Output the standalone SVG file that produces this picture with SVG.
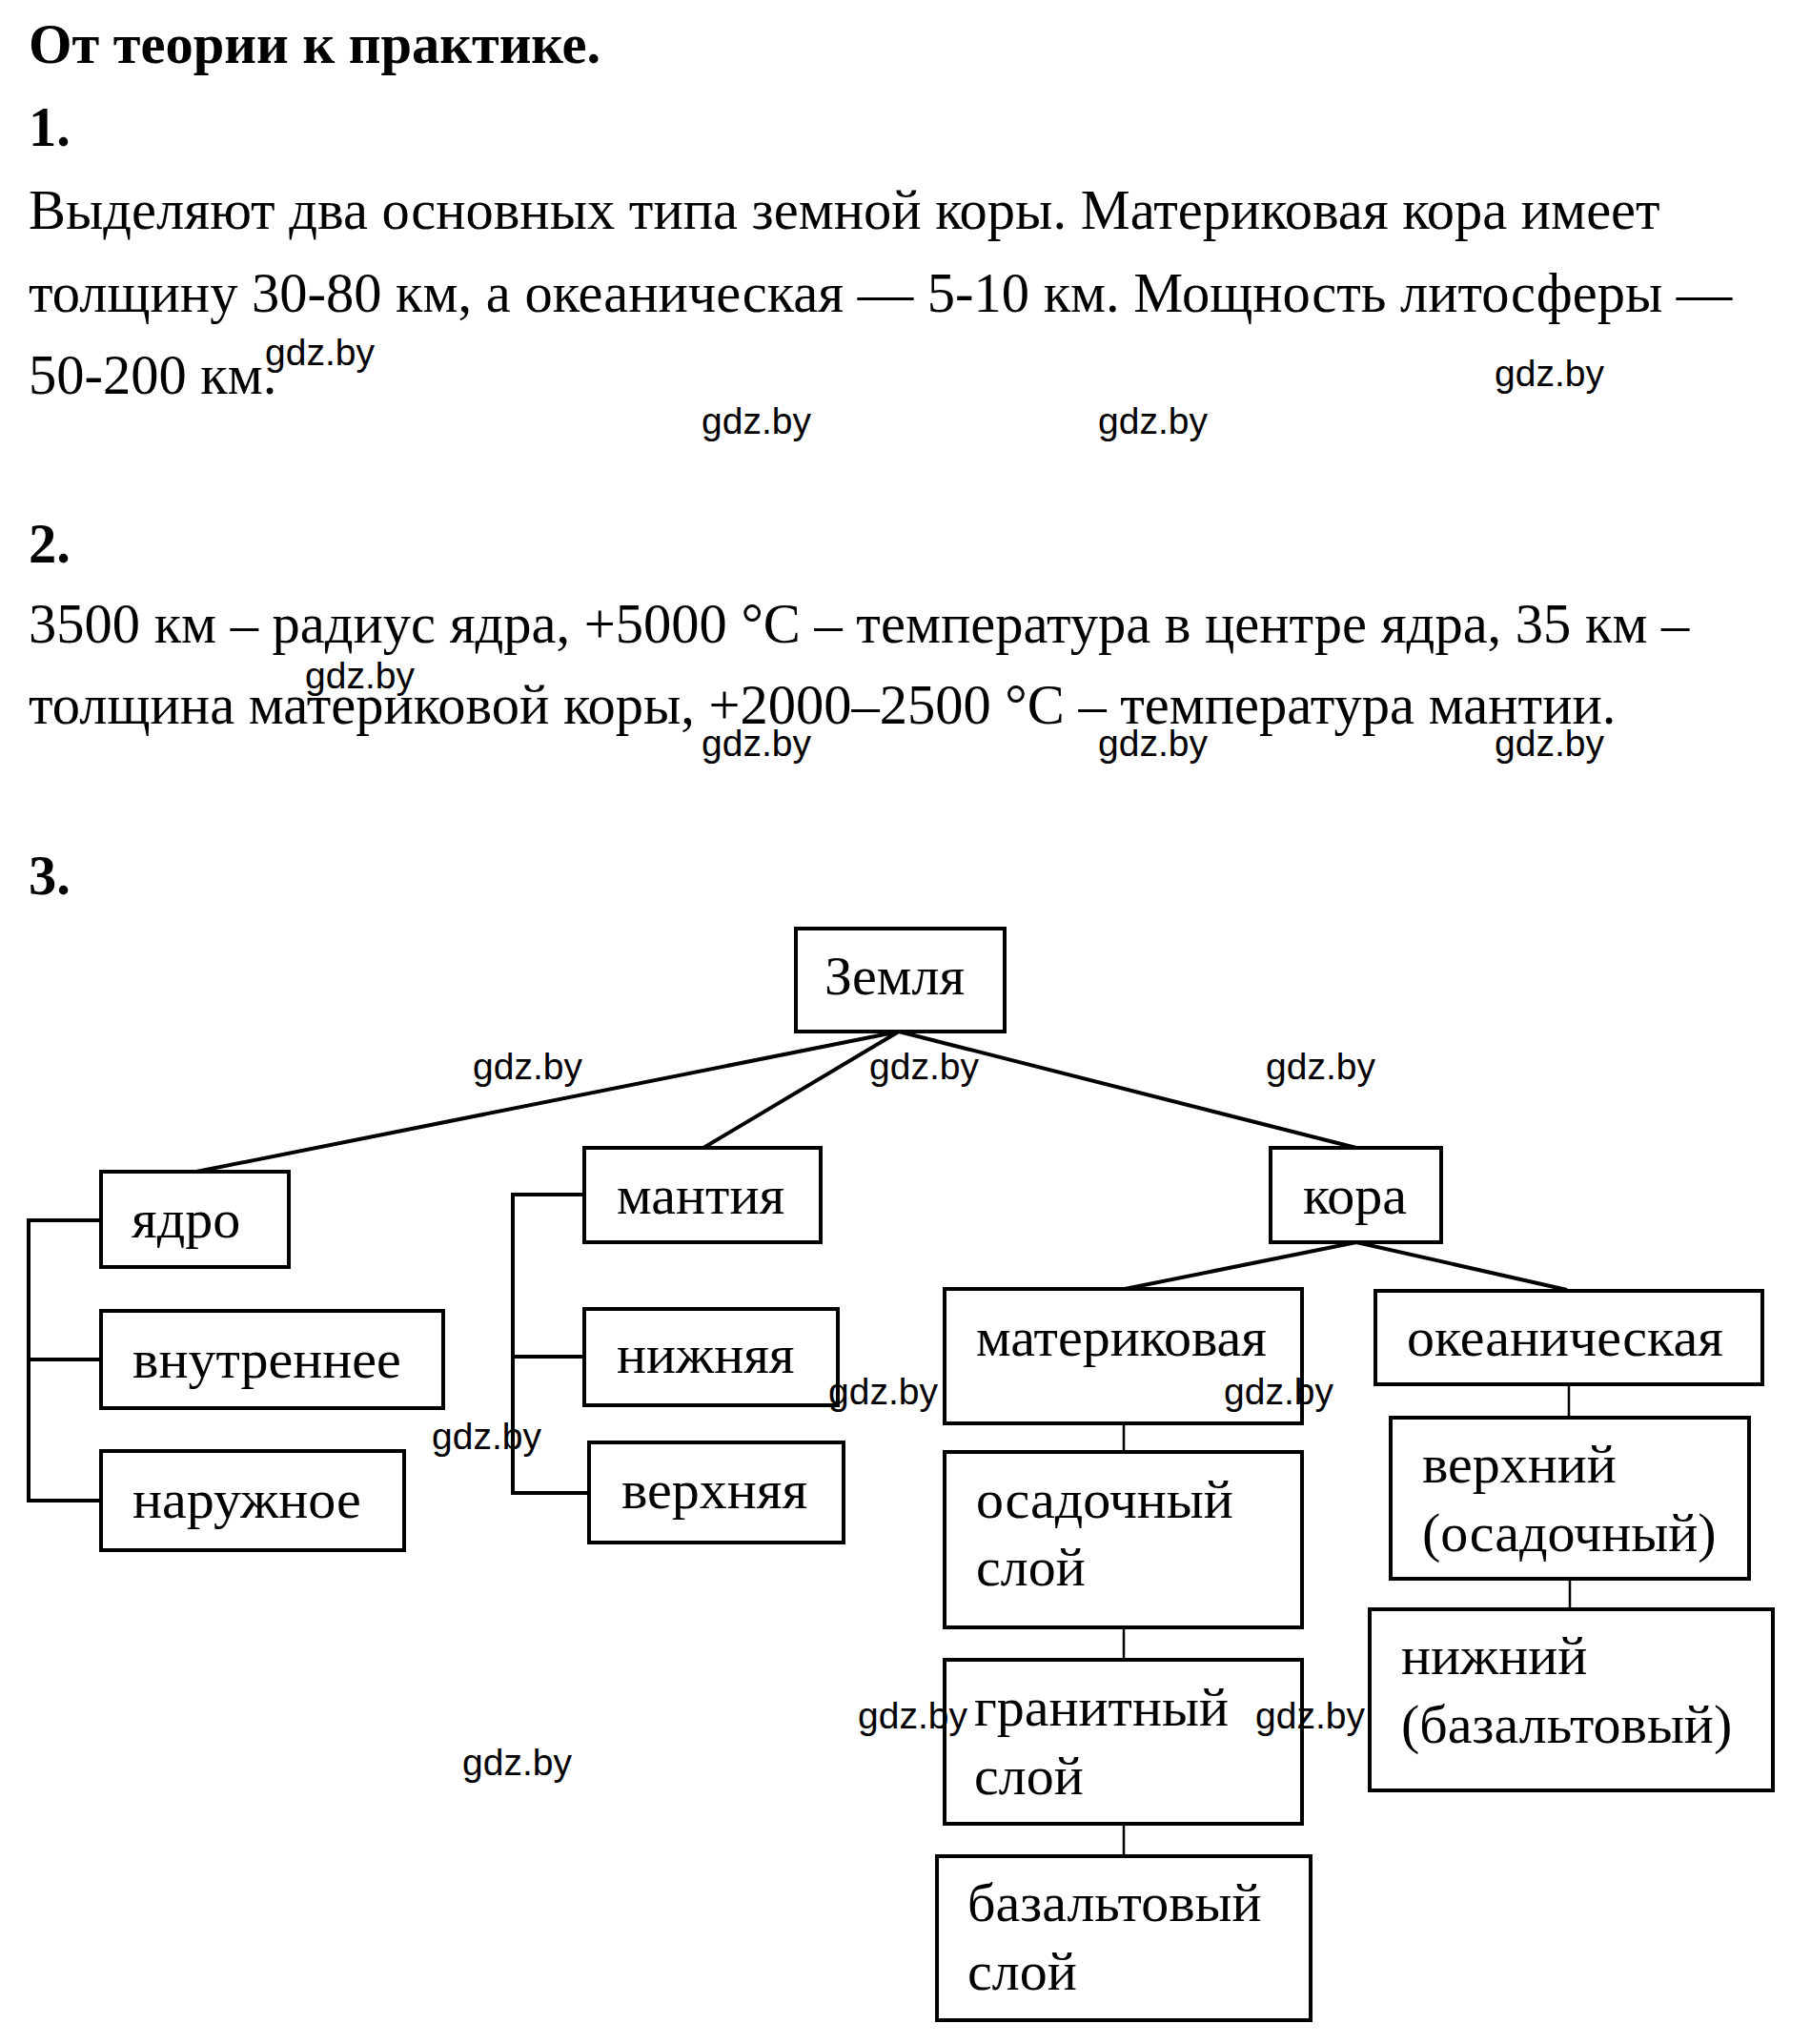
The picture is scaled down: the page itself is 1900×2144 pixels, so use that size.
<svg xmlns="http://www.w3.org/2000/svg" width="1900" height="2144" viewBox="0 0 1900 2144">
<style>
.t{font-family:"Liberation Serif","Times New Roman",serif;font-size:58.5px;fill:#000}
.d{font-size:58px}
.b{font-weight:bold}
.w{font-family:"Liberation Sans",Arial,sans-serif;font-size:39px;fill:#000}
.box{fill:#fff;stroke:#000;stroke-width:4}
.ln{stroke:#000;stroke-width:4;fill:none}
.thin{stroke:#000;stroke-width:2.5;fill:none}
</style>
<rect width="1900" height="2144" fill="#fff"/>
<g id="text">
<text class="t b" x="30" y="66">От теории к практике.</text>
<text class="t b" x="30" y="153">1.</text>
<text class="t" x="30" y="240">Выделяют два основных типа земной коры. Материковая кора имеет</text>
<text class="t" x="30" y="327">толщину 30-80 км, а океаническая — 5-10 км. Мощность литосферы —</text>
<text class="t" x="30" y="413">50-200 км.</text>
<text class="t b" x="30" y="590">2.</text>
<text class="t" x="30" y="674">3500 км – радиус ядра, +5000 °C – температура в центре ядра, 35 км –</text>
<text class="t" x="30" y="759">толщина материковой коры, +2000–2500 °C – температура мантии.</text>
<text class="t b" x="30" y="938">3.</text>
</g>
<g id="connectors">
<polyline class="ln" points="206,1229 943,1082 738,1204"/>
<line class="ln" x1="943" y1="1082" x2="1423" y2="1204"/>
<polyline class="ln" points="1180,1352 1423,1303 1644,1353"/>
<polyline class="ln" points="106,1280 30,1280 30,1574 106,1574"/>
<line class="ln" x1="30" y1="1426" x2="106" y2="1426"/>
<polyline class="ln" points="613,1253 538,1253 538,1566 618,1566"/>
<line class="ln" x1="538" y1="1423" x2="613" y2="1423"/>
<line class="thin" x1="1179" y1="1493" x2="1179" y2="1523"/>
<line class="thin" x1="1179" y1="1707" x2="1179" y2="1741"/>
<line class="thin" x1="1179" y1="1913" x2="1179" y2="1947"/>
<line class="thin" x1="1646" y1="1452" x2="1646" y2="1487"/>
<line class="thin" x1="1647" y1="1656" x2="1647" y2="1688"/>
</g>
<g id="n-earth"><rect class="box" x="835" y="974" width="219" height="108"/><text class="t d" x="865" y="1043">Земля</text></g>
<g id="n-core"><rect class="box" x="106" y="1229" width="197" height="100"/><text class="t d" x="138" y="1298">ядро</text></g>
<g id="n-inner"><rect class="box" x="106" y="1375" width="359" height="102"/><text class="t d" x="139" y="1445">внутреннее</text></g>
<g id="n-outer"><rect class="box" x="106" y="1522" width="318" height="104"/><text class="t d" x="139" y="1592">наружное</text></g>
<g id="n-mantle"><rect class="box" x="613" y="1204" width="248" height="99"/><text class="t d" x="647" y="1273">мантия</text></g>
<g id="n-lower-mantle"><rect class="box" x="613" y="1373" width="266" height="101"/><text class="t d" x="647" y="1440">нижняя</text></g>
<g id="n-upper-mantle"><rect class="box" x="618" y="1513" width="267" height="105"/><text class="t d" x="652" y="1582">верхняя</text></g>
<g id="n-crust"><rect class="box" x="1333" y="1204" width="179" height="99"/><text class="t d" x="1367" y="1273">кора</text></g>
<g id="n-continental"><rect class="box" x="991" y="1352" width="375" height="141"/><text class="t d" x="1024" y="1422">материковая</text></g>
<g id="n-oceanic"><rect class="box" x="1443" y="1354" width="406" height="98"/><text class="t d" x="1476" y="1422">океаническая</text></g>
<g id="n-sedimentary"><rect class="box" x="991" y="1523" width="375" height="184"/><text class="t d" x="1024" y="1592">осадочный</text><text class="t d" x="1024" y="1663">слой</text></g>
<g id="n-granite"><rect class="box" x="991" y="1741" width="375" height="172"/><text class="t d" x="1022" y="1810">гранитный</text><text class="t d" x="1022" y="1882">слой</text></g>
<g id="n-basalt"><rect class="box" x="983" y="1947" width="392" height="172"/><text class="t d" x="1015" y="2015">базальтовый</text><text class="t d" x="1015" y="2087">слой</text></g>
<g id="n-upper-oceanic"><rect class="box" x="1459" y="1487" width="376" height="169"/><text class="t d" x="1492" y="1555">верхний</text><text class="t d" x="1492" y="1627">(осадочный)</text></g>
<g id="n-lower-oceanic"><rect class="box" x="1437" y="1688" width="423" height="190"/><text class="t d" x="1470" y="1756">нижний</text><text class="t d" x="1470" y="1828">(базальтовый)</text></g>
<g id="watermarks">
<text class="w" x="278" y="383">gdz.by</text>
<text class="w" x="1568" y="405">gdz.by</text>
<text class="w" x="736" y="455">gdz.by</text>
<text class="w" x="1152" y="455">gdz.by</text>
<text class="w" x="320" y="722">gdz.by</text>
<text class="w" x="736" y="793">gdz.by</text>
<text class="w" x="1152" y="793">gdz.by</text>
<text class="w" x="1568" y="793">gdz.by</text>
<text class="w" x="496" y="1132">gdz.by</text>
<text class="w" x="912" y="1132">gdz.by</text>
<text class="w" x="1328" y="1132">gdz.by</text>
<text class="w" x="453" y="1520">gdz.by</text>
<text class="w" x="869" y="1473">gdz.by</text>
<text class="w" x="1284" y="1473">gdz.by</text>
<text class="w" x="900" y="1813">gdz.by</text>
<text class="w" x="1317" y="1813">gdz.by</text>
<text class="w" x="485" y="1862">gdz.by</text>
</g>
</svg>
